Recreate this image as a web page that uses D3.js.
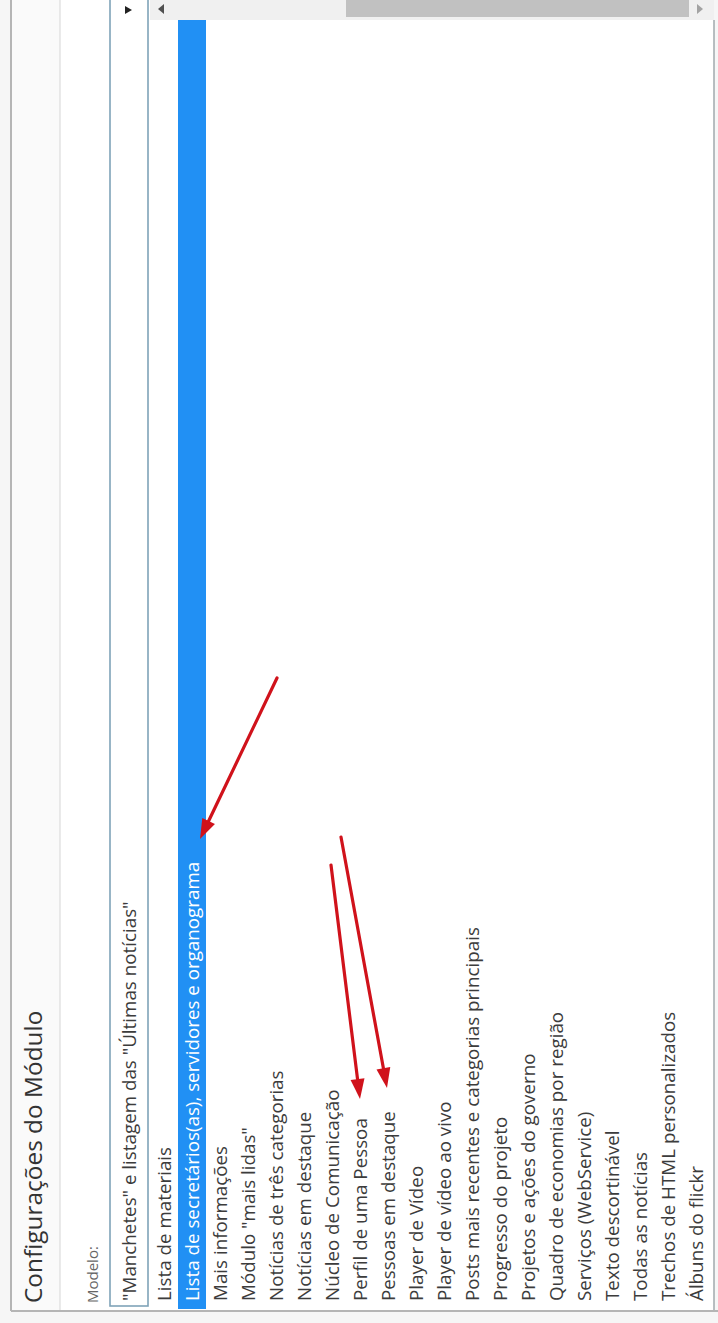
<!DOCTYPE html>
<html>
<head>
<meta charset="utf-8">
<script src="https://cdn.jsdelivr.net/npm/d3@7"></script>
<style>
  html, body { margin: 0; padding: 0; background: #ffffff; }
  svg { display: block; }
  text { font-family: "Open Sans", "Noto Sans", sans-serif; }
</style>
</head>
<body>
<div id="chart"></div>
<script>
// ---------- content ----------
const titleText = "Configurações do Módulo";
const fieldLabel = "Modelo:";
const selectValue = "\"Manchetes\" e listagem das \"Últimas notícias\"";
const listItems = [
  "Lista de materiais",
  "Lista de secretários(as), servidores e organograma",
  "Mais informações",
  "Módulo \"mais lidas\"",
  "Notícias de três categorias",
  "Notícias em destaque",
  "Núcleo de Comunicação",
  "Perfil de uma Pessoa",
  "Pessoas em destaque",
  "Player de Vídeo",
  "Player de vídeo ao vivo",
  "Posts mais recentes e categorias principais",
  "Progresso do projeto",
  "Projetos e ações do governo",
  "Quadro de economias por região",
  "Serviços (WebService)",
  "Texto descortinável",
  "Todas as notícias",
  "Trechos de HTML personalizados",
  "Álbuns do flickr"
];
const selectedItem = "Lista de secretários(as), servidores e organograma";
// annotation arrows: which list item each arrow points at
const arrowTargets = [
  "Lista de secretários(as), servidores e organograma",
  "Perfil de uma Pessoa",
  "Pessoas em destaque"
];

// ---------- layout ----------
const W = 718, H = 1323;
const L = {
  panelLeft: 11, panelBottom: 1311, panelRight: 714,
  titleSep: 60, titleX: 42,
  labelX: 92,
  selLeft: 110, selRight: 148, selBottom: 1306,
  listLeft: 150, listRight: 710, listBottom: 1309,
  scrollH: 20, textStart: 1301,
  listFont: 18.8, titleFont: 24.4, labelFont: 15
};
// arrows: tail (x,y) and tip offsets relative to the target row centre
const arrowGeom = [
  { tail: [277, 678], tipDx: 8, tipY: 839 },
  { tail: [331, 865], tipDx: 0, tipY: 1099 },
  { tail: [341, 837], tipDx: -1, tipY: 1088 }
];

const svg = d3.select("#chart").append("svg")
  .attr("width", W).attr("height", H);

// page background
svg.append("rect").attr("width", W).attr("height", H).attr("fill", "#f6f6f6");
// panel
svg.append("rect").attr("x", L.panelLeft).attr("y", 0)
  .attr("width", L.panelRight - L.panelLeft).attr("height", L.panelBottom)
  .attr("fill", "#ffffff");
svg.append("rect").attr("x", L.panelLeft).attr("y", 0)
  .attr("width", L.titleSep - L.panelLeft).attr("height", L.panelBottom)
  .attr("fill", "#fafafa");

// row scale
const row = d3.scaleBand().domain(listItems).range([L.listLeft, L.listRight]);

// selected highlight
svg.append("rect")
  .attr("x", row(selectedItem)).attr("y", L.scrollH)
  .attr("width", row.bandwidth()).attr("height", L.listBottom - L.scrollH)
  .attr("fill", "#2190f4");

// list labels
svg.append("g").selectAll("text").data(listItems).join("text")
  .attr("transform", d => `translate(${row(d) + row.bandwidth() / 2},${L.textStart}) rotate(-90)`)
  .attr("dominant-baseline", "central")
  .attr("font-size", L.listFont)
  .attr("fill", d => d === selectedItem ? "#ffffff" : "#3c3c3c")
  .text(d => d);

// scrollbar (vertical list scrollbar, appears on top because of rotation)
svg.append("rect").attr("x", L.listLeft).attr("y", 0)
  .attr("width", L.panelRight - L.listLeft).attr("height", L.scrollH)
  .attr("fill", "#f0f0f0");
svg.append("rect").attr("x", 346).attr("y", 0)
  .attr("width", 689 - 346).attr("height", 17)
  .attr("fill", "#c1c1c1");
svg.append("path").attr("d", "M158,9 L164,4 L164,14 Z").attr("fill", "#505050");
svg.append("path").attr("d", "M703,9 L697,4 L697,14 Z").attr("fill", "#a3a3a3");

// select box
svg.append("rect").attr("x", L.selLeft).attr("y", -2)
  .attr("width", L.selRight - L.selLeft).attr("height", L.selBottom + 2)
  .attr("fill", "#ffffff").attr("stroke", "#7fa3b8").attr("stroke-width", 1.6);
svg.append("path").attr("d", "M125,6 L132,10 L125,14 Z").attr("fill", "#222");
svg.append("text")
  .attr("transform", `translate(${(L.selLeft + L.selRight) / 2},${L.textStart}) rotate(-90)`)
  .attr("dominant-baseline", "central")
  .attr("font-size", L.listFont).attr("fill", "#3c3c3c")
  .text(selectValue);

// field label
svg.append("text")
  .attr("transform", `translate(${L.labelX},${L.textStart + 2}) rotate(-90)`)
  .attr("dominant-baseline", "central")
  .attr("font-size", L.labelFont).attr("fill", "#666666")
  .text(fieldLabel);

// title
svg.append("text")
  .attr("transform", `translate(${L.titleX},${L.textStart + 2}) rotate(-90)`)
  .attr("font-size", L.titleFont).attr("fill", "#333333")
  .text(titleText);

// borders
svg.append("line").attr("x1", L.titleSep).attr("x2", L.titleSep)
  .attr("y1", 0).attr("y2", L.panelBottom).attr("stroke", "#d6d6d6").attr("stroke-width", 1);
svg.append("line").attr("x1", L.panelRight).attr("x2", L.panelRight)
  .attr("y1", L.scrollH).attr("y2", L.panelBottom).attr("stroke", "#a0a8ad").attr("stroke-width", 1.5);
svg.append("line").attr("x1", L.panelLeft).attr("x2", L.panelLeft)
  .attr("y1", 0).attr("y2", L.panelBottom).attr("stroke", "#b5b5b5").attr("stroke-width", 2);
svg.append("line").attr("x1", L.panelLeft).attr("x2", W)
  .attr("y1", L.panelBottom).attr("y2", L.panelBottom).attr("stroke", "#b5b5b5").attr("stroke-width", 2);

// red annotation arrows
const red = "#d0121b";
arrowTargets.forEach((t, i) => {
  const g = arrowGeom[i];
  const tip = [row(t) + row.bandwidth() / 2 + g.tipDx, g.tipY];
  const dx = tip[0] - g.tail[0], dy = tip[1] - g.tail[1];
  const len = Math.hypot(dx, dy), ux = dx / len, uy = dy / len;
  const headL = 20, headW = 7;
  const base = [tip[0] - ux * headL, tip[1] - uy * headL];
  svg.append("line")
    .attr("x1", g.tail[0]).attr("y1", g.tail[1])
    .attr("x2", base[0]).attr("y2", base[1])
    .attr("stroke", red).attr("stroke-width", 3.2).attr("stroke-linecap", "round");
  const p1 = [base[0] - uy * headW, base[1] + ux * headW];
  const p2 = [base[0] + uy * headW, base[1] - ux * headW];
  svg.append("path")
    .attr("d", `M${tip[0]},${tip[1]} L${p1[0]},${p1[1]} L${p2[0]},${p2[1]} Z`)
    .attr("fill", red);
});
</script>
</body>
</html>
